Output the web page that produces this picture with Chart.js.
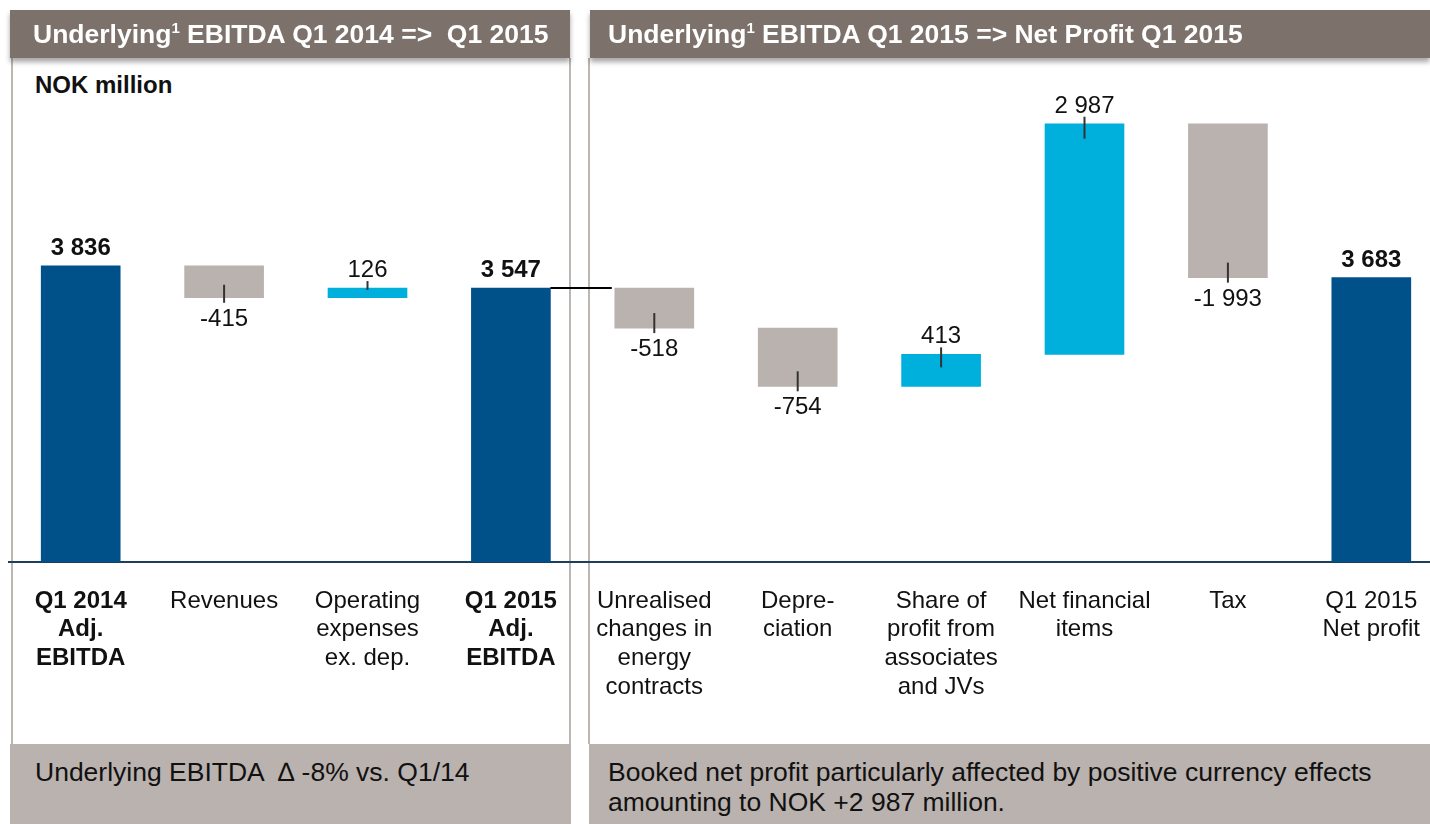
<!DOCTYPE html>
<html>
<head>
<meta charset="utf-8">
<script src="https://cdn.jsdelivr.net/npm/chart.js@4.4.1/dist/chart.umd.min.js"></script>
<style>
    body { margin: 0; width: 1430px; height: 824px; overflow: hidden; background: #fff; position: relative;
           font-family: Arial, "Liberation Sans", sans-serif; }
    .head { position: absolute; top: 10px; height: 48px; background: #7d716b; color: #fff; font-weight: bold;
            font-size: 26.5px; line-height: 48px; box-shadow: 0 4px 5px rgba(0,0,0,0.35); box-sizing: border-box; z-index: 2; }
    .head sup { font-size: 15px; line-height: 0; vertical-align: 10px; }
    .vline { position: absolute; top: 58px; height: 686px; width: 2px; background: #bdb7b3; }
    .foot { position: absolute; top: 744px; height: 80px; background: #bab2ae; color: #111; font-size: 26.5px;
            line-height: 30px; padding-top: 13px; box-sizing: border-box; z-index: 2; }
    .unit { position: absolute; left: 35px; top: 71px; font-size: 24px; font-weight: bold; color: #111; }
    #wrap { position: absolute; left: 0; top: 0; width: 1450px; height: 824px; z-index: 1; }
</style>
</head>
<body>
<div class="head" style="left:10px;width:560px;padding-left:23px">Underlying<sup>1</sup> EBITDA Q1 2014 =&gt;&nbsp; Q1 2015</div>
<div class="head" style="left:590px;width:840px;padding-left:18px">Underlying<sup>1</sup> EBITDA Q1 2015 =&gt; Net Profit Q1 2015</div>
<div class="vline" style="left:11px"></div>
<div class="vline" style="left:569px"></div>
<div class="vline" style="left:588px"></div>
<div class="unit">NOK million</div>
<div class="foot" style="left:10px;width:561px;padding-left:25px">Underlying EBITDA &nbsp;&#8710; -8% vs. Q1/14</div>
<div class="foot" style="left:589px;width:841px;padding-left:19px">Booked net profit particularly affected by positive currency effects<br>amounting to NOK +2 987 million.</div>
<div id="wrap"><canvas id="chartWaterfall" width="1450" height="824"></canvas></div>

<script>
// Datos del puente EBITDA -> resultado neto (NOK millones)
const categorias = [
    ['Q1 2014', 'Adj.', 'EBITDA'],
    'Revenues',
    ['Operating', 'expenses', 'ex. dep.'],
    ['Q1 2015', 'Adj.', 'EBITDA'],
    ['Unrealised', 'changes in', 'energy', 'contracts'],
    ['Depre-', 'ciation'],
    ['Share of', 'profit from', 'associates', 'and JVs'],
    ['Net financial', 'items'],
    'Tax',
    ['Q1 2015', 'Net profit']
];
const valores = [3836, -415, 126, 3547, -518, -754, 413, 2987, -1993, 3683];
const tipos = ['total', 'delta', 'delta', 'total', 'delta', 'delta', 'delta', 'delta', 'delta', 'total'];
const negritas = [true, false, false, true, false, false, false, false, false, false];

const COLORES = {
    total: '#00508a',
    sube: '#00b0dc',
    baja: '#bab2ae',
    texto: '#111111'
};

// Construir barras flotantes acumuladas
const rangos = [];
let acumulado = 0;
valores.forEach((v, i) => {
    if (tipos[i] === 'total') {
        rangos.push([0, v]);
        acumulado = v;
    } else {
        rangos.push([acumulado, acumulado + v]);
        acumulado += v;
    }
});
const colores = valores.map((v, i) => tipos[i] === 'total' ? COLORES.total : (v >= 0 ? COLORES.sube : COLORES.baja));

const formato = v => {
    const s = Math.abs(v).toString().replace(/\B(?=(\d{3})+(?!\d))/g, ' ');
    return (v < 0 ? '-' : '') + s;
};

// Etiquetas, marcas y conector
const etiquetasPlugin = {
    id: 'etiquetas',
    afterDatasetsDraw(chart) {
        const ctx = chart.ctx;
        const meta = chart.getDatasetMeta(0);
        ctx.save();
        ctx.textAlign = 'center';
        ctx.textBaseline = 'alphabetic';
        meta.data.forEach((bar, i) => {
            const top = Math.min(bar.y, bar.base);
            const bottom = Math.max(bar.y, bar.base);
            const h = bottom - top;
            const v = valores[i];
            ctx.fillStyle = COLORES.texto;
            if (tipos[i] === 'total') {
                ctx.font = 'bold 24px Arial, "Liberation Sans"';
                ctx.fillText(formato(v), bar.x, top - 11);
                return;
            }
            ctx.font = '24px Arial, "Liberation Sans"';
            const dentro = Math.min(15, h / 2 - 3);
            ctx.strokeStyle = '#333333';
            ctx.lineWidth = 2;
            ctx.beginPath();
            if (v >= 0) {
                ctx.moveTo(bar.x, top - 7);
                ctx.lineTo(bar.x, top + dentro);
                ctx.stroke();
                ctx.fillText(formato(v), bar.x, top - 11);
            } else {
                ctx.moveTo(bar.x, bottom - dentro);
                ctx.lineTo(bar.x, bottom + 5);
                ctx.stroke();
                ctx.fillText(formato(v), bar.x, bottom + 28);
            }
        });
        // Conector entre Q1 2015 Adj. EBITDA y la primera variación
        const a = meta.data[3], b = meta.data[4];
        const y = chart.scales.y.getPixelForValue(valores[3]);
        ctx.strokeStyle = '#000000';
        ctx.lineWidth = 2;
        ctx.beginPath();
        ctx.moveTo(a.x + a.width / 2, y);
        ctx.lineTo(b.x - b.width / 2 - 3, y);
        ctx.stroke();
        ctx.restore();
    }
};

new Chart(document.getElementById('chartWaterfall'), {
    type: 'bar',
    data: {
        labels: categorias,
        datasets: [{
            data: rangos,
            backgroundColor: colores,
            borderWidth: 0,
            barThickness: 79
        }]
    },
    options: {
        responsive: false,
        animation: false,
        layout: { padding: { left: 9, right: 7, top: 60, bottom: 0 } },
        plugins: {
            legend: { display: false },
            tooltip: { enabled: false }
        },
        scales: {
            x: {
                grid: { display: false },
                border: { display: true, color: '#1d3f5e', width: 2 },
                ticks: {
                    autoSkip: false,
                    maxRotation: 0,
                    padding: 17,
                    color: COLORES.texto,
                    font: (c) => ({
                        family: 'Arial, "Liberation Sans"',
                        size: 24,
                        lineHeight: 1.19,
                        weight: negritas[c.index] ? 'bold' : 'normal'
                    })
                },
                afterFit(scale) { scale.height = 262; }
            },
            y: {
                display: false,
                min: 0,
                max: 6500
            }
        }
    },
    plugins: [etiquetasPlugin]
});
</script>
</body>
</html>
